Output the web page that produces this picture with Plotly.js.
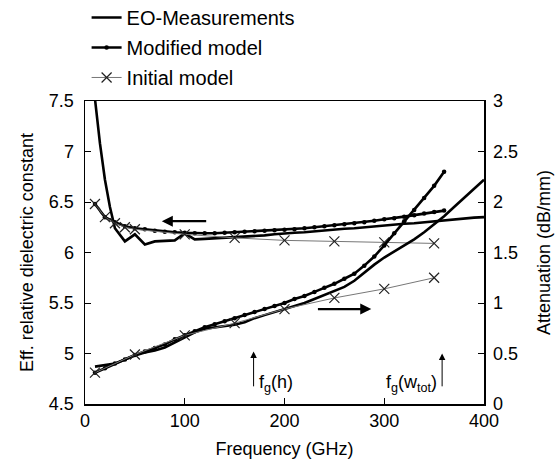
<!DOCTYPE html>
<html>
<head>
<meta charset="utf-8">
<script src="https://cdn.plot.ly/plotly-3.0.1.min.js"></script>
<style>html,body{margin:0;padding:0;background:#fff}#chart{width:560px;height:468px}</style>
</head>
<body>
<div id="chart"></div>
<script>
// Frequencies (GHz)
const freqEO = [10,15,20,25,30,40,50,60,70,80,90,100,110,120,130,140,150,160,170,180,190,200,210,220,230,240,250,260,270,280,290,300,310,320,330,340,350,360,370,380,390,400];
const freqMod = [10,20,30,40,50,60,70,80,90,100,110,120,130,140,150,160,170,180,190,200,210,220,230,240,250,260,270,280,290,300,310,320,330,340,350,360];
const freqInitEps = [10,20,30,40,50,100,150,200,250,300,350];
const freqInitAtt = [10,50,100,150,200,250,300,350];
const freqEOAtt = [10,20,30,40,50,60,70,80,90,100,110,120,130,140,150,160,170,180,190,200,210,220,230,240,250,260,270,280,290,300,310,320,330,340,350,360,370,380,390,400];

// Effective relative dielectric constant (left axis)
const epsEO = [7.52,7.08,6.72,6.45,6.24,6.11,6.18,6.08,6.11,6.115,6.12,6.19,6.13,6.135,6.14,6.15,6.155,6.16,6.165,6.17,6.18,6.19,6.195,6.20,6.21,6.22,6.23,6.235,6.24,6.25,6.255,6.265,6.275,6.285,6.29,6.30,6.31,6.32,6.33,6.34,6.345,6.35];
const epsMod = [6.48,6.35,6.30,6.26,6.24,6.23,6.215,6.205,6.20,6.195,6.19,6.19,6.19,6.195,6.20,6.205,6.21,6.215,6.22,6.225,6.23,6.24,6.25,6.26,6.27,6.28,6.29,6.30,6.315,6.33,6.34,6.355,6.37,6.385,6.40,6.415];
const epsInit = [6.48,6.35,6.29,6.25,6.23,6.18,6.145,6.12,6.11,6.10,6.09];

// Attenuation dB/mm (right axis)
const attEO = [0.37,0.385,0.40,0.44,0.48,0.51,0.53,0.56,0.61,0.66,0.71,0.745,0.76,0.77,0.785,0.81,0.85,0.88,0.91,0.94,0.97,1.00,1.04,1.08,1.12,1.16,1.22,1.30,1.38,1.45,1.51,1.57,1.63,1.70,1.78,1.86,1.95,2.04,2.13,2.22];
const attMod = [0.31,0.355,0.40,0.44,0.485,0.52,0.555,0.59,0.64,0.68,0.72,0.76,0.79,0.82,0.85,0.88,0.91,0.94,0.97,1.00,1.04,1.07,1.11,1.15,1.19,1.24,1.29,1.37,1.46,1.57,1.69,1.81,1.92,2.04,2.16,2.30];
const attInit = [0.31,0.49,0.68,0.80,0.94,1.05,1.14,1.25];

const seriesNames = ['EO-Measurements','Modified model','Initial model'];

const FONT = 'Liberation Sans, Arial, Helvetica, sans-serif';

const traces = [
  {x: freqEO, y: epsEO, yaxis:'y', mode:'lines', name: seriesNames[0], legendgroup:'a',
   line:{color:'#000', width:2.6}},
  {x: freqMod, y: epsMod, yaxis:'y', mode:'lines+markers', name: seriesNames[1], legendgroup:'b',
   line:{color:'#000', width:2.6}, marker:{symbol:'circle', size:4.5, color:'#000'}},
  {x: freqInitEps, y: epsInit, yaxis:'y', mode:'lines+markers', name: seriesNames[2], legendgroup:'c',
   line:{color:'#777', width:1}, marker:{symbol:'x-thin-open', size:10, color:'#222', line:{width:1.2, color:'#222'}}},
  {x: freqEOAtt, y: attEO, yaxis:'y2', mode:'lines', name: seriesNames[0], legendgroup:'a', showlegend:false,
   line:{color:'#000', width:2.6}},
  {x: freqMod, y: attMod, yaxis:'y2', mode:'lines+markers', name: seriesNames[1], legendgroup:'b', showlegend:false,
   line:{color:'#000', width:2.6}, marker:{symbol:'circle', size:4.5, color:'#000'}},
  {x: freqInitAtt, y: attInit, yaxis:'y2', mode:'lines+markers', name: seriesNames[2], legendgroup:'c', showlegend:false,
   line:{color:'#777', width:1}, marker:{symbol:'x-thin-open', size:10, color:'#222', line:{width:1.2, color:'#222'}}}
];

const layout = {
  width:560, height:468,
  margin:{l:85, r:76, t:101, b:64, autoexpand:false},
  paper_bgcolor:'#fff', plot_bgcolor:'#fff',
  font:{family:FONT, size:18, color:'#000'},
  showlegend:true,
  legend:{x:0.004, y:1.34, xanchor:'left', yanchor:'top', bgcolor:'rgba(0,0,0,0)',
          font:{family:FONT, size:20, color:'#000'}, tracegroupgap:1, itemwidth:30},
  xaxis:{range:[0,400], dtick:100, tick0:0, showgrid:false, zeroline:false,
         showline:true, linecolor:'#000', linewidth:1.5, mirror:true,
         ticks:'inside', ticklen:6, tickcolor:'#000',
         title:{text:'Frequency (GHz)', font:{size:18}, standoff:12}},
  yaxis:{range:[4.5,7.5], dtick:0.5, tick0:4.5, showgrid:false, zeroline:false,
         showline:true, linecolor:'#000', linewidth:1.5,
         ticks:'inside', ticklen:6, tickcolor:'#000', ticklabelstandoff:6,
         title:{text:'Eff. relative dielectric constant', font:{size:18}, standoff:10}},
  yaxis2:{range:[0,3], dtick:0.5, tick0:0, overlaying:'y', side:'right', showgrid:false, zeroline:false,
          showline:true, linecolor:'#000', linewidth:1.5,
          ticks:'inside', ticklen:6, tickcolor:'#000', ticklabelstandoff:4,
          title:{text:'Attenuation (dB/mm)', font:{size:18}, standoff:20}},
  annotations:[
    {x:77, y:6.31, ax:123, ay:6.31, xref:'x', yref:'y', axref:'x', ayref:'y', text:'', showarrow:true,
     arrowhead:2, arrowsize:1, arrowwidth:2.2, arrowcolor:'#000'},
    {x:287, y:0.94, ax:232, ay:0.94, xref:'x', yref:'y2', axref:'x', ayref:'y2', text:'', showarrow:true,
     arrowhead:2, arrowsize:1, arrowwidth:2.2, arrowcolor:'#000'},
    {x:169, y:0.52, ax:169, ay:0.16, xref:'x', yref:'y2', axref:'x', ayref:'y2', text:'', showarrow:true,
     arrowhead:2, arrowsize:1.3, arrowwidth:1, arrowcolor:'#000'},
    {x:358, y:0.50, ax:358, ay:0.16, xref:'x', yref:'y2', axref:'x', ayref:'y2', text:'', showarrow:true,
     arrowhead:2, arrowsize:1.3, arrowwidth:1, arrowcolor:'#000'},
    {x:172, y:0.2, xref:'x', yref:'y2', text:'f<sub>g</sub>(h)', showarrow:false, xanchor:'left', yanchor:'middle',
     font:{family:FONT, size:18, color:'#000'}},
    {x:355, y:0.2, xref:'x', yref:'y2', text:'f<sub>g</sub>(w<sub>tot</sub>)', showarrow:false, xanchor:'right', yanchor:'middle',
     font:{family:FONT, size:18, color:'#000'}}
  ]
};

Plotly.newPlot('chart', traces, layout, {displayModeBar:false, staticPlot:true});
</script>
</body>
</html>
